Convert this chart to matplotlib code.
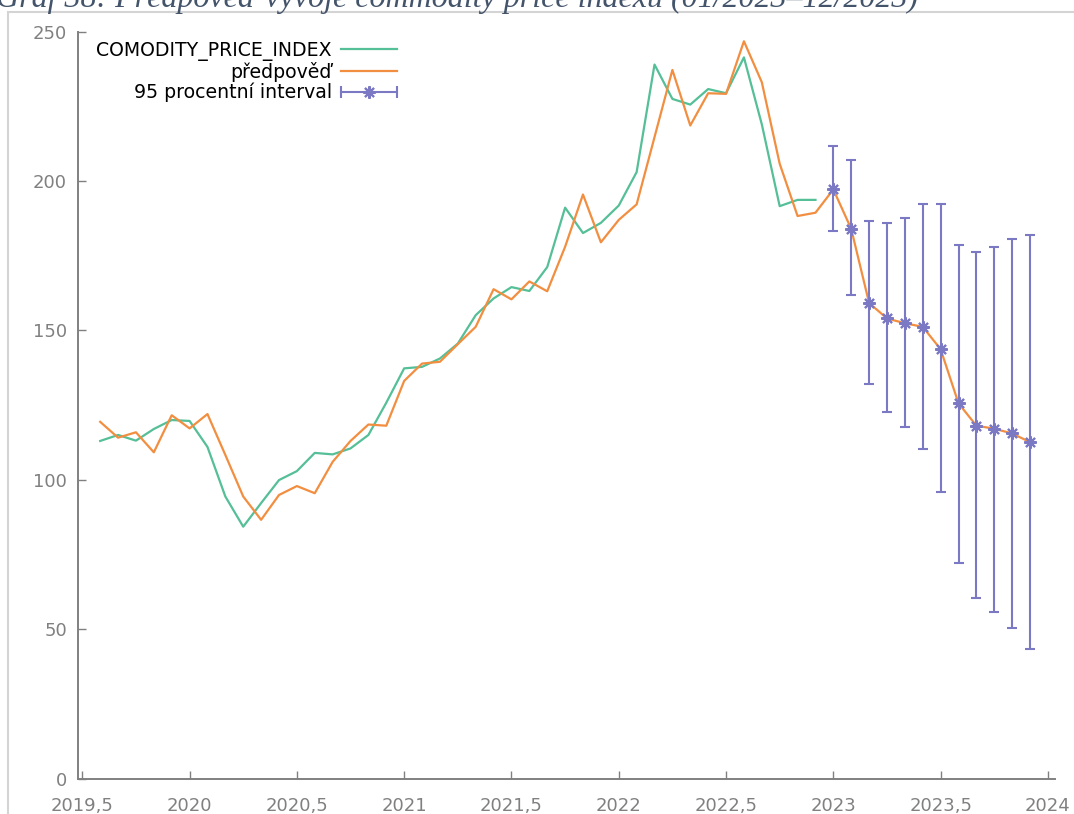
import numpy as np
import pandas as pd
import matplotlib.pyplot as plt
from matplotlib.patches import Rectangle
from matplotlib.lines import Line2D
from matplotlib.legend_handler import HandlerLine2D
from matplotlib.ticker import FuncFormatter, MultipleLocator

# Commodity price index, monthly 2019-08 .. 2022-12
index_actual = [113.0, 115.0, 113.1, 117.0, 120.0, 119.7, 111.0, 94.4, 84.3, 92.2,
                99.9, 102.9, 109.0, 108.5, 110.5, 115.0, 125.8, 137.3, 137.8, 140.6,
                145.6, 155.1, 160.7, 164.5, 163.2, 171.2, 191.1, 182.6, 186.0, 191.8,
                203.0, 239.0, 227.5, 225.6, 230.8, 229.4, 241.4, 219.0, 191.6, 193.7,
                193.7]

# in-sample one step predictions, 2019-08 .. 2022-12
index_fitted = [119.4, 114.1, 115.9, 109.2, 121.6, 117.2, 122.0, 108.3, 94.4, 86.6,
                94.9, 97.9, 95.5, 106.0, 113.0, 118.5, 118.1, 133.1, 138.9, 139.5,
                145.4, 151.2, 163.8, 160.4, 166.4, 163.1, 178.0, 195.5, 179.5, 187.0,
                192.2, 214.7, 237.2, 218.6, 229.4, 229.2, 246.8, 233.1, 205.8, 188.3,
                189.4]

# out-of-sample forecast 2023-01 .. 2023-12 with 95% bounds
forecast = [197.2, 184.0, 159.2, 154.0, 152.4, 151.2, 143.7, 125.6, 118.1, 117.1, 115.5, 112.6]
forecast_low = [183.2, 162.0, 131.9, 122.8, 117.8, 110.3, 96.0, 72.2, 60.3, 55.7, 50.5, 43.2]
forecast_high = [211.6, 206.9, 186.5, 185.9, 187.6, 192.2, 192.2, 178.5, 176.2, 177.9, 180.7, 181.8]

GREEN = '#55bf97'
ORANGE = '#f28e40'
BLUE = '#7b79c4'
GREY = '#808080'


def to_year(periods):
    # gretl style decimal time: year + (month - 1) / 12
    return np.asarray(periods.year + (periods.month - 1) / 12.0, dtype=float)


t_actual = to_year(pd.period_range('2019-08', periods=len(index_actual), freq='M'))
t_pred = to_year(pd.period_range('2019-08', periods=len(index_fitted) + len(forecast), freq='M'))
t_fc = to_year(pd.period_range('2023-01', periods=len(forecast), freq='M'))

pred = np.array(index_fitted + forecast)
fc = np.array(forecast)
err = [fc - np.array(forecast_low), np.array(forecast_high) - fc]

plt.rcParams['font.family'] = ['DejaVu Sans']

fig = plt.figure(figsize=(10.74, 8.14), dpi=100)
ax = fig.add_axes([78 / 1074, 1 - 778.5 / 814, (1055 - 78) / 1074, (778.5 - 31.7) / 814])

ax.plot(t_actual, index_actual, color=GREEN, lw=1.6, zorder=2)
ax.plot(t_pred, pred, color=ORANGE, lw=1.6, zorder=2)
ax.errorbar(t_fc, fc, yerr=err, fmt='none', ecolor=BLUE, elinewidth=1.5,
            capsize=3.3, capthick=1.5, zorder=3)
ax.plot(t_fc, fc, ls='none', marker=(8, 2, 0), ms=9, mew=1.5, color=BLUE, zorder=4)

ax.set_xlim(2019.48, 2024.033)
ax.set_ylim(0, 250)
ax.xaxis.set_major_locator(MultipleLocator(0.5))
ax.yaxis.set_major_locator(MultipleLocator(50))
ax.xaxis.set_major_formatter(FuncFormatter(lambda v, p: f'{v:g}'.replace('.', ',')))

for side in ['top', 'right']:
    ax.spines[side].set_visible(False)
for side in ['left', 'bottom']:
    ax.spines[side].set_color(GREY)
    ax.spines[side].set_linewidth(1.4)
ax.tick_params(direction='in', length=5.5, width=1.0, color=GREY,
               labelcolor=GREY, labelsize=13)
ax.tick_params(axis='x', pad=13)
ax.tick_params(axis='y', pad=8)

# legend: label first, sample on the right
h_actual = Line2D([], [], color=GREEN, lw=1.6)
h_pred = Line2D([], [], color=ORANGE, lw=1.6)
h_bar = Line2D([], [], color=BLUE, lw=1.5, marker=(8, 2, 0), ms=9, mew=1.5)
h_caps = Line2D([], [], color=BLUE, lw=0, marker='|', ms=9, mew=1.5)
leg = ax.legend([h_actual, h_pred, (h_bar, h_caps)],
                ['COMODITY_PRICE_INDEX', 'předpověď', '95 procentní interval'],
                handler_map={h_caps: HandlerLine2D(numpoints=2, marker_pad=0)},
                loc='upper right', bbox_to_anchor=(0.3265, 0.988), borderaxespad=0,
                borderpad=0, frameon=False, markerfirst=False, fontsize=13.6,
                handlelength=2.95, handletextpad=0.5, labelspacing=0.06)

# page frame and caption of the surrounding document
fig.add_artist(Rectangle((8 / 1074, -0.05), 1.1, 1.05 - 12 / 814,
                         transform=fig.transFigure, fill=False,
                         ec='#d4d4d4', lw=1.5))
fig.text(-0.004, 1 - 7 / 814,
         'Graf 38: Předpověď vývoje commodity price indexu (01/2023–12/2023)',
         ha='left', va='baseline', fontsize=23, style='italic',
         family='Liberation Serif', color='#44546a')

fig.savefig('out.png', dpi=100)
